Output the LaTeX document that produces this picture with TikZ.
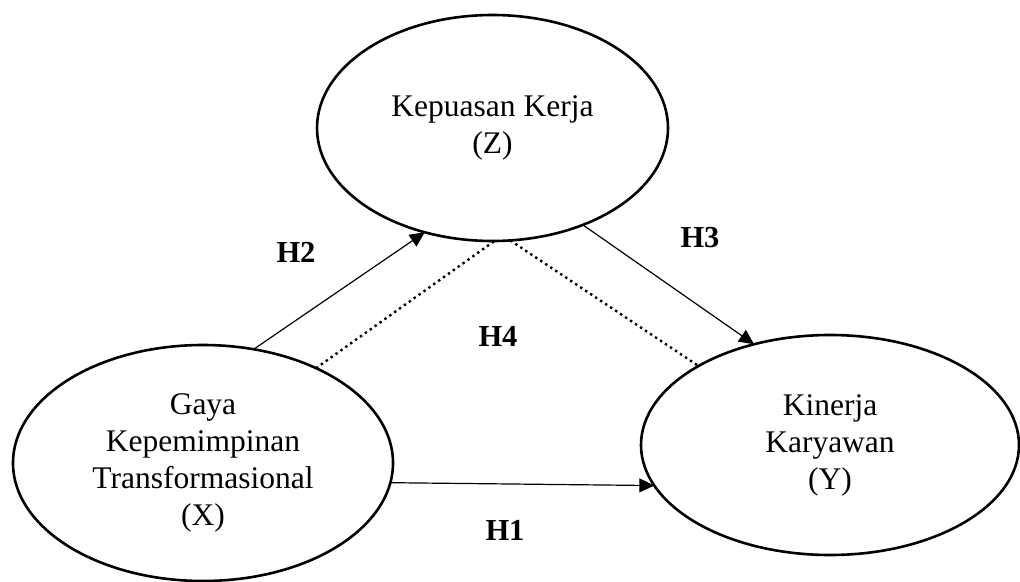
\documentclass[tikz,border=0pt]{standalone}
\usepackage{fontspec}
\setmainfont{Liberation Serif}
\usetikzlibrary{shapes.geometric,arrows.meta}
\begin{document}
\begin{tikzpicture}[x=1pt,y=-1pt,
  var/.style={draw,ellipse,line width=2.6pt,inner sep=0pt,outer sep=0pt,align=center,
    font=\fontsize{31.5}{37}\selectfont},
  link/.style={line width=1.2pt,-{Triangle[length=15pt,width=14pt]}},
  dotlink/.style={line width=2.4pt,dash pattern=on 2.4pt off 3.6pt},
  hlab/.style={font=\fontsize{30.5}{36}\selectfont\bfseries}]
\useasboundingbox (0,0) rectangle (1020,581);
\node[var,minimum width=351pt,minimum height=226pt] (Z) at (492.5,128) {Kepuasan Kerja\\(Z)};
\node[var,minimum width=380pt,minimum height=236pt] (X) at (203,463) {Gaya\\Kepemimpinan\\Transformasional\\(X)};
\node[var,minimum width=378pt,minimum height=220pt] (Y) at (830,445) {Kinerja\\Karyawan\\(Y)};
\draw[link] (X.66) -- (Z.237);
\draw[link] (Z.313) -- (Y.127);
\draw[link] (X.-6.7) -- (Y.193);
\draw[dotlink] (X.40.7) -- (Z.271);
\draw[dotlink] (Z.279) -- (Y.149);
\node[hlab] (h2) at (296,252) {H2};
\node[hlab] (h3) at (700,238) {H3};
\node[hlab] (h4) at (498,336) {H4};
\node[hlab] (h1) at (505,530) {H1};
\end{tikzpicture}
\end{document}
